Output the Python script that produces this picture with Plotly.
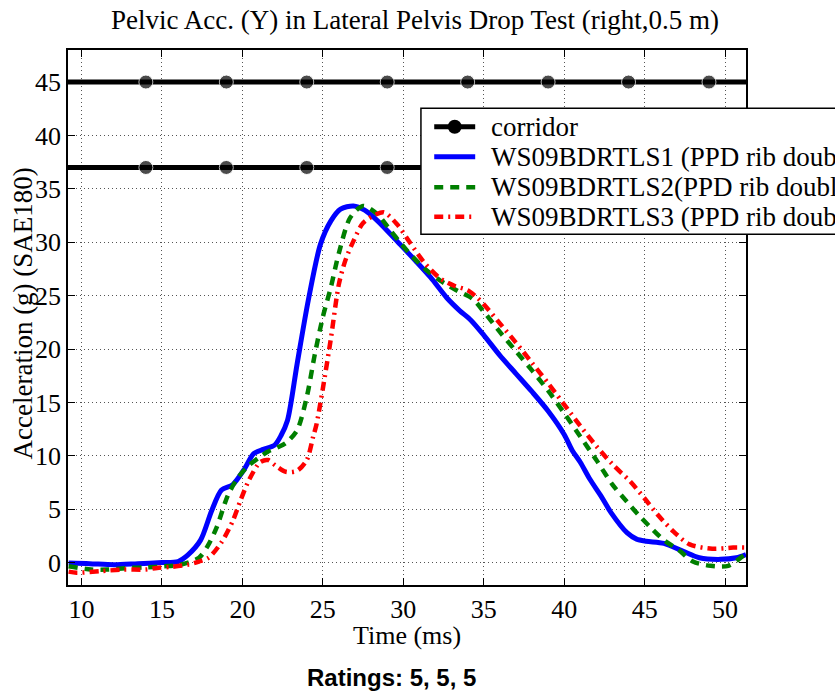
import plotly.graph_objects as go

# ---- data -------------------------------------------------------------
corridor_time = [9.0, 14, 19, 24, 29, 34, 39, 44, 49, 52.0]
corridor_upper = 45
corridor_lower = 37

ws1_time = [9.2, 10.5, 12.0, 13.5, 15.0, 16.0, 16.6, 17.4, 18.1, 18.7, 19.4, 20.1,
            20.7, 21.3, 22.0, 22.4, 22.8, 23.4, 24.1, 24.85, 25.5, 26.1, 26.9, 27.6,
            28.4, 29.8, 30.8, 31.7, 32.7, 33.5, 34.2, 35.0, 36.0, 37.0, 38.0, 39.0,
            40.0, 40.5, 41.0, 41.6, 42.3, 42.9, 43.9, 44.5, 45.1, 46.2, 47.4, 48.4,
            49.7, 50.7, 51.3]
ws1_acc = [-0.05, -0.1, -0.2, -0.1, 0.0, 0.1, 0.7, 2.1, 4.9, 6.8, 7.3, 8.7,
           10.2, 10.6, 11.0, 11.9, 13.3, 18.6, 24.6, 29.8, 32.0, 33.1, 33.4, 33.0,
           32.0, 29.8, 28.2, 26.7, 24.8, 23.6, 22.7, 21.3, 19.4, 17.7, 16.0, 14.2,
           12.0, 10.5, 9.4, 7.8, 6.2, 4.7, 2.8, 2.2, 2.0, 1.8, 1.05, 0.45,
           0.3, 0.45, 0.75]

ws2_time = [9.2, 10.6, 11.6, 13.0, 14.0, 15.1, 16.15, 17.3, 17.9, 18.4, 19.1, 19.7,
            20.4, 21.0, 21.6, 22.2, 22.7, 23.4, 24.0, 24.5, 25.0, 25.5, 26.0, 26.7,
            27.5, 28.4, 29.2, 29.9, 30.6, 31.5, 32.3, 33.3, 34.3, 35.0, 36.0, 37.0,
            38.0, 39.0, 40.0, 41.0, 42.0, 43.0, 43.9, 44.6, 45.3, 46.2, 47.1, 48.0,
            49.1, 50.2, 51.1, 51.3]
ws2_acc = [-0.35, -0.65, -0.65, -0.5, -0.45, -0.35, -0.2, 0.45, 1.7, 3.3, 6.3, 7.9,
           9.1, 9.8, 10.4, 10.8, 11.2, 12.4, 15.5, 19.5, 23.0, 25.8, 29.0, 32.3,
           33.4, 32.6, 31.1, 29.8, 28.6, 27.3, 26.4, 25.5, 24.7, 23.5, 21.6, 19.8,
           18.0, 16.1, 14.0, 11.8, 9.6, 7.3, 5.7, 4.5, 3.4, 2.1, 1.2, 0.1,
           -0.3, -0.3, 0.6, 0.8]

ws3_time = [9.2, 9.7, 11.2, 12.6, 14.0, 14.7, 15.6, 16.6, 17.3, 17.9, 18.7, 19.4,
            19.9, 20.4, 21.1, 21.6, 22.05, 22.7, 23.4, 24.0, 24.4, 24.6, 25.0, 25.5,
            26.0, 26.4, 26.9, 27.5, 28.3, 28.8, 29.6, 30.4, 31.3, 32.3, 33.2, 34.0,
            34.6, 35.0, 36.0, 37.0, 38.0, 39.0, 40.0, 41.0, 42.0, 43.0, 44.1, 45.0,
            45.8, 46.8, 47.8, 49.2, 50.5, 51.3]
ws3_acc = [-0.85, -0.95, -0.8, -0.65, -0.65, -0.5, -0.4, -0.2, 0.1, 0.45, 1.9, 3.9,
           5.9, 7.7, 9.4, 9.6, 9.1, 8.5, 8.6, 9.6, 11.8, 12.9, 16.3, 21.0,
           26.1, 28.3, 30.1, 31.8, 32.6, 32.8, 31.7, 30.0, 28.1, 26.6, 25.9, 25.5,
           24.8, 24.2, 22.4, 20.6, 18.7, 16.8, 14.8, 12.8, 10.9, 9.2, 7.6, 6.0,
           4.5, 2.9, 1.7, 1.3, 1.4, 1.4]

legend_labels = ["corridor",
                 "WS09BDRTLS1 (PPD rib double)",
                 "WS09BDRTLS2(PPD rib double)",
                 "WS09BDRTLS3 (PPD rib double)"]

x_ticks = [10, 15, 20, 25, 30, 35, 40, 45, 50]
y_ticks = [0, 5, 10, 15, 20, 25, 30, 35, 40, 45]

# ---- styling ----------------------------------------------------------
SERIF = "Liberation Serif, Times New Roman, serif"
W, H = 835, 692
ML, MR, MT, MB = 67.5, 89, 50, 107
PW, PH = W - ML - MR, H - MT - MB

BLUE = "#0000ff"
GREEN = "#007f00"
RED = "#ff0000"
DASH_GREEN = "9px,7px"
DASH_RED = "9px,5px,2px,5px"


def px_x(px):
    return (px - ML) / PW


def px_y(py):
    return (H - MB - py) / PH


fig = go.Figure()

marker_sizes = [0] + [14] * (len(corridor_time) - 2) + [0]
for level in (corridor_upper, corridor_lower):
    fig.add_trace(go.Scatter(
        x=corridor_time, y=[level] * len(corridor_time),
        mode="lines+markers", line=dict(color="black", width=5),
        marker=dict(color="black", size=marker_sizes),
        showlegend=False, hoverinfo="skip"))

fig.add_trace(go.Scatter(x=ws1_time, y=ws1_acc, mode="lines",
                         line=dict(color=BLUE, width=5, shape="spline", smoothing=0.8),
                         showlegend=False))
fig.add_trace(go.Scatter(x=ws2_time, y=ws2_acc, mode="lines",
                         line=dict(color=GREEN, width=4.5, dash=DASH_GREEN,
                                   shape="spline", smoothing=0.8),
                         showlegend=False))
fig.add_trace(go.Scatter(x=ws3_time, y=ws3_acc, mode="lines",
                         line=dict(color=RED, width=4.5, dash=DASH_RED,
                                   shape="spline", smoothing=0.8),
                         showlegend=False))

axis_common = dict(
    showline=True, linecolor="black", linewidth=1.5, mirror="ticks",
    ticks="inside", ticklen=7, tickwidth=1, tickcolor="black",
    showgrid=True, gridcolor="#555555", gridwidth=1, griddash="1px,3px",
    zeroline=False, tickfont=dict(family=SERIF, size=26, color="black"),
)
fig.update_xaxes(range=[9.16, 51.3], tickvals=x_ticks, **axis_common)
fig.update_yaxes(range=[-2.1, 48.0], tickvals=y_ticks, **axis_common)

# legend box drawn on top of the plot area
leg_left, leg_top, leg_bottom = 420.7, 108.3, 234.3
row_y = [126.7, 156.7, 187.3, 216.7]
sample_x0, sample_x1, text_x = 434, 475, 489

shapes = [dict(type="rect", xref="paper", yref="paper",
               x0=px_x(leg_left), x1=px_x(W + 60), y0=px_y(leg_bottom), y1=px_y(leg_top),
               line=dict(color="black", width=1.5), fillcolor="white", layer="above")]
sample_styles = [dict(color="black", width=5),
                 dict(color=BLUE, width=5),
                 dict(color=GREEN, width=4.5, dash=DASH_GREEN),
                 dict(color=RED, width=4.5, dash=DASH_RED)]
for ry, style in zip(row_y, sample_styles):
    shapes.append(dict(type="line", xref="paper", yref="paper",
                       x0=px_x(sample_x0), x1=px_x(sample_x1),
                       y0=px_y(ry), y1=px_y(ry), line=style, layer="above"))
cx = (sample_x0 + sample_x1) / 2
r = 7
shapes.append(dict(type="circle", xref="paper", yref="paper",
                   x0=px_x(cx - r), x1=px_x(cx + r), y0=px_y(row_y[0] + r), y1=px_y(row_y[0] - r),
                   fillcolor="black", line=dict(color="black", width=0), layer="above"))

annotations = []
for ry, label in zip(row_y, legend_labels):
    annotations.append(dict(text=label, xref="paper", yref="paper",
                            x=px_x(text_x), y=px_y(ry), xanchor="left", yanchor="middle",
                            showarrow=False, font=dict(family=SERIF, size=27, color="black")))

annotations.append(dict(text="Time (ms)", xref="paper", yref="paper",
                        x=px_x(407), y=px_y(635), xanchor="center", yanchor="middle",
                        showarrow=False, font=dict(family=SERIF, size=26, color="black")))
annotations.append(dict(text="Acceleration (g) (SAE180)", xref="paper", yref="paper",
                        x=px_x(22), y=px_y(314), xanchor="center", yanchor="middle",
                        textangle=-90, showarrow=False,
                        font=dict(family=SERIF, size=27, color="black")))
annotations.append(dict(text="<b>Ratings: 5, 5, 5</b>", xref="paper", yref="paper",
                        x=px_x(391), y=px_y(677), xanchor="center", yanchor="middle",
                        showarrow=False,
                        font=dict(family="Liberation Sans, Arial, sans-serif",
                                  size=24, color="black")))

fig.update_layout(
    width=W, height=H,
    margin=dict(l=ML, r=MR, t=MT, b=MB, autoexpand=False),
    paper_bgcolor="white", plot_bgcolor="white",
    showlegend=False,
    title=dict(text="Pelvic Acc. (Y) in Lateral Pelvis Drop Test (right,0.5 m)",
               x=415 / W, xanchor="center", xref="container",
               y=1 - 20 / H, yanchor="middle", yref="container",
               font=dict(family=SERIF, size=27, color="black")),
    shapes=shapes, annotations=annotations,
)

fig.write_html("out.html")
